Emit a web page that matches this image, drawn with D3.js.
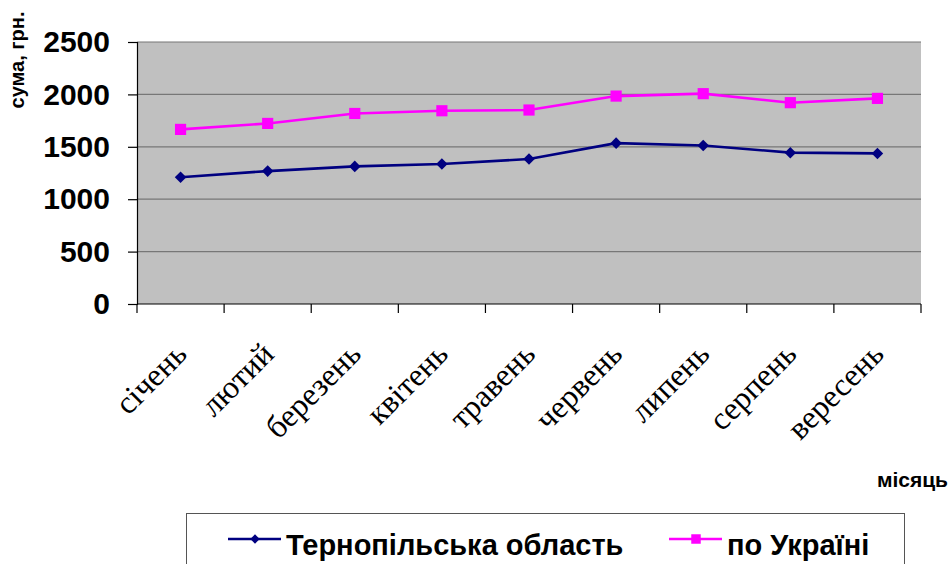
<!DOCTYPE html>
<html>
<head>
<meta charset="utf-8">
<script src="https://cdn.jsdelivr.net/npm/d3@7"></script>
<style>
  body { margin: 0; background: #fff; }
  svg { display: block; }
</style>
</head>
<body>
<div id="chart"></div>
<script>
// Data
var months = ["січень", "лютий", "березень", "квітень", "травень", "червень", "липень", "серпень", "вересень"];
var ternopil = [1210, 1268, 1313, 1336, 1383, 1535, 1513, 1444, 1437];
var ukraine = [1666, 1723, 1818, 1844, 1851, 1984, 2007, 1921, 1962];
var seriesNames = ["Тернопільська область", "по Україні"];
var yTicks = [0, 500, 1000, 1500, 2000, 2500];

// Setup
var width = 949, height = 564;
var plot = { left: 137, right: 921, top: 42, bottom: 304 };
var navy = "#000080", magenta = "#ff00ff";

var x = d3.scaleBand().domain(months).range([plot.left, plot.right]).padding(0);
var y = d3.scaleLinear().domain([0, 2500]).range([plot.bottom, plot.top]);

var svg = d3.select("#chart").append("svg")
    .attr("width", width)
    .attr("height", height);

// plot area background
svg.append("rect")
    .attr("x", plot.left)
    .attr("y", plot.top)
    .attr("width", plot.right - plot.left)
    .attr("height", plot.bottom - plot.top)
    .attr("fill", "#c0c0c0");

// gridlines
svg.append("g").selectAll("line")
    .data(yTicks.filter(d => d > 0))
    .join("line")
    .attr("x1", plot.left).attr("x2", plot.right)
    .attr("y1", d => y(d)).attr("y2", d => y(d))
    .attr("stroke", "#777")
    .attr("stroke-width", 1.2);

// y axis
var yAxis = svg.append("g")
    .attr("transform", `translate(${plot.left},0)`)
    .call(d3.axisLeft(y).tickValues(yTicks).tickFormat(d3.format("d")).tickSize(9).tickPadding(18));
yAxis.select(".domain").attr("stroke", "#000").attr("stroke-width", 1.2);
yAxis.selectAll(".tick line").attr("stroke", "#000").attr("stroke-width", 1.2);
yAxis.selectAll("text")
    .attr("font-family", "'Liberation Sans', Arial, sans-serif")
    .attr("font-weight", "bold")
    .attr("font-size", 30)
    .attr("fill", "#000");

// x axis: ticks at category boundaries
var bounds = months.map(m => x(m)).concat([plot.right]);
svg.append("line")
    .attr("x1", plot.left).attr("x2", plot.right)
    .attr("y1", plot.bottom).attr("y2", plot.bottom)
    .attr("stroke", "#000").attr("stroke-width", 1.2);
svg.append("g").selectAll("line")
    .data(bounds)
    .join("line")
    .attr("x1", d => d).attr("x2", d => d)
    .attr("y1", plot.bottom).attr("y2", plot.bottom + 9)
    .attr("stroke", "#000").attr("stroke-width", 1.2);

svg.append("g").selectAll("text")
    .data(months)
    .join("text")
    .attr("transform", d => `translate(${x(d) + x.bandwidth() / 2 + 8},356) rotate(-45)`)
    .attr("text-anchor", "end")
    .attr("font-family", "'Liberation Serif', 'Times New Roman', serif")
    .attr("font-size", 32)
    .attr("fill", "#000")
    .text(d => d);

// axis titles
svg.append("text")
    .attr("transform", "translate(24,60) rotate(-90)")
    .attr("text-anchor", "middle")
    .attr("font-family", "'Liberation Sans', Arial, sans-serif")
    .attr("font-weight", "bold")
    .attr("font-size", 20)
    .text("сума, грн.");

svg.append("text")
    .attr("x", 948).attr("y", 487)
    .attr("text-anchor", "end")
    .attr("font-family", "'Liberation Sans', Arial, sans-serif")
    .attr("font-weight", "bold")
    .attr("font-size", 21)
    .text("місяць");

// lines
var cx = d => x(d) + x.bandwidth() / 2;
var line = d3.line()
    .x((d, i) => cx(months[i]))
    .y(d => y(d));

svg.append("path")
    .attr("d", line(ternopil))
    .attr("fill", "none")
    .attr("stroke", navy)
    .attr("stroke-width", 2.6);

svg.append("path")
    .attr("d", line(ukraine))
    .attr("fill", "none")
    .attr("stroke", magenta)
    .attr("stroke-width", 2.6);

var diamond = d3.symbol().type(d3.symbolDiamond2).size(85);
var square = d3.symbol().type(d3.symbolSquare).size(125);

svg.append("g").selectAll("path")
    .data(ternopil)
    .join("path")
    .attr("transform", (d, i) => `translate(${cx(months[i])},${y(d)})`)
    .attr("d", diamond)
    .attr("fill", navy);

svg.append("g").selectAll("path")
    .data(ukraine)
    .join("path")
    .attr("transform", (d, i) => `translate(${cx(months[i])},${y(d)})`)
    .attr("d", square)
    .attr("fill", magenta);

// legend
var legend = svg.append("g");
legend.append("rect")
    .attr("x", 186.5).attr("y", 513.5)
    .attr("width", 718).attr("height", 70)
    .attr("fill", "#fff")
    .attr("stroke", "#555")
    .attr("stroke-width", 1);

var legendItems = [
    { name: seriesNames[0], color: navy, symbol: d3.symbol().type(d3.symbolDiamond2).size(55), x: 228 },
    { name: seriesNames[1], color: magenta, symbol: d3.symbol().type(d3.symbolSquare).size(90), x: 669 }
];

legendItems.forEach(item => {
    legend.append("line")
        .attr("x1", item.x).attr("x2", item.x + 53)
        .attr("y1", 539).attr("y2", 539)
        .attr("stroke", item.color)
        .attr("stroke-width", 2.6);
    legend.append("path")
        .attr("transform", `translate(${item.x + 27},539)`)
        .attr("d", item.symbol)
        .attr("fill", item.color);
    legend.append("text")
        .attr("x", item.x + 58).attr("y", 555)
        .attr("font-family", "'Liberation Sans', Arial, sans-serif")
        .attr("font-weight", "bold")
        .attr("font-size", 29)
        .attr("fill", "#000")
        .text(item.name);
});
</script>
</body>
</html>
